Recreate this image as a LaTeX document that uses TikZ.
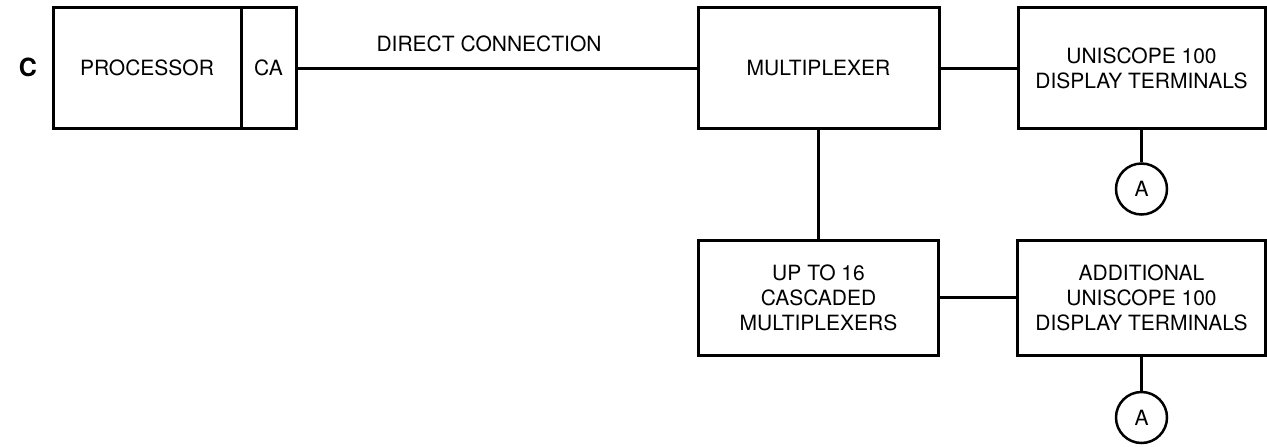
\documentclass[tikz,border=0pt]{standalone}
\usepackage{fontspec}
\setmainfont{TeX Gyre Heros}
\usepackage{tikz}
\usetikzlibrary{positioning}

\begin{document}
\begin{tikzpicture}[x=1pt,y=-1pt,on grid,
    font=\fontsize{21}{25}\selectfont,
    unit/.style={draw, line width=3pt, minimum height=121pt, align=center, inner sep=0pt},
    tag/.style={circle, draw, line width=2.5pt, minimum size=51pt, inner sep=0pt},
    wire/.style={line width=3pt}]
   \useasboundingbox (0,0) rectangle (1267,447);
   \node (lbl) at (28,67) {\fontsize{25}{25}\selectfont\bfseries C};
   \node[unit, minimum width=188pt] (proc) at (147,68) {PROCESSOR};
   \node[unit, minimum width=55pt]  (ca)   [right=121.5pt of proc] {CA};
   \node[unit, minimum width=241pt] (mux)  [right=550pt of ca]     {MULTIPLEXER};
   \node[unit, minimum width=247pt] (term) [right=323pt of mux]    {UNISCOPE 100\\DISPLAY TERMINALS};
   \node[unit, minimum width=240pt, minimum height=115pt] (casc) [below=229.5pt of mux]
        {UP TO 16\\CASCADED\\MULTIPLEXERS};
   \node[unit, minimum width=248pt, minimum height=115pt] (addl) [right=323pt of casc]
        {ADDITIONAL\\UNISCOPE 100\\DISPLAY TERMINALS};
   \node[tag] (a1) [below=121pt of term]   {A};
   \node[tag] (a2) [below=120pt of addl] {A};

   \path[wire]
    (ca)   edge node[pos=0.48, above=11pt] {DIRECT CONNECTION} (mux)
    (mux)  edge (term)
           edge (casc)
    (casc) edge (addl)
    (term) edge (a1)
    (addl) edge (a2);
\end{tikzpicture}
\end{document}
